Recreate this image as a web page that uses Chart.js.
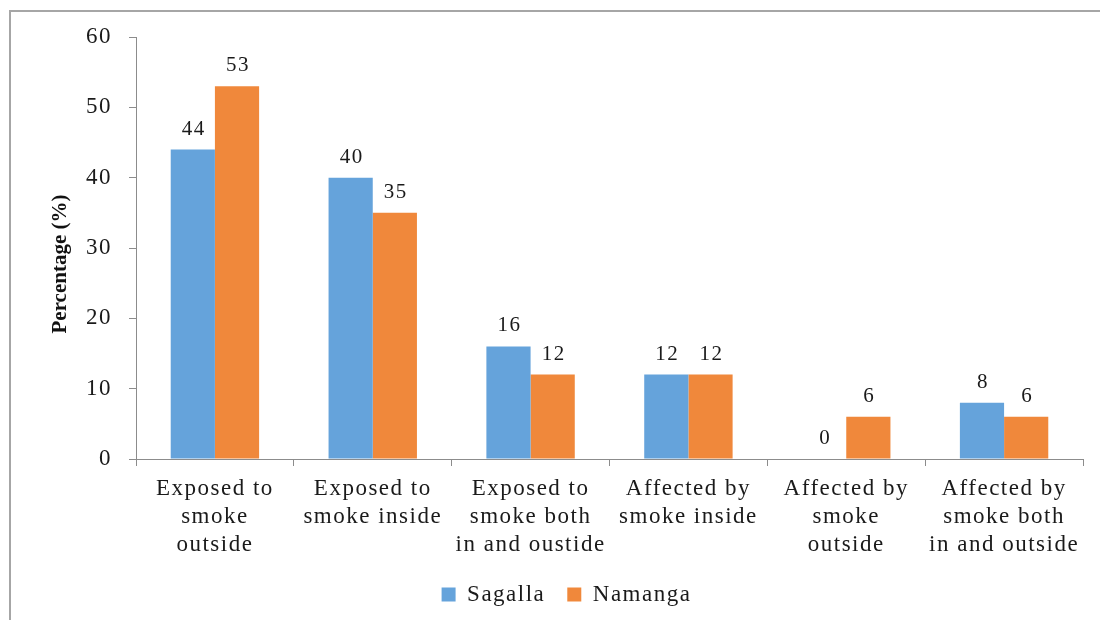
<!DOCTYPE html>
<html>
<head>
<meta charset="utf-8">
<script src="https://cdn.jsdelivr.net/npm/chart.js@4.4.1/dist/chart.umd.min.js"></script>
<style>
  html, body { margin: 0; padding: 0; background: #fff; }
  #wrap { position: relative; width: 1100px; height: 620px; overflow: hidden; }
  #frame {
    position: absolute; left: 9px; top: 10px; width: 1100px; height: 620px;
    border-top: 2px solid #a6a6a6; border-left: 2px solid #a6a6a6;
  }
  #chart { position: absolute; left: 0; top: 0; }
</style>
</head>
<body>
<div id="wrap">
  <div id="frame"></div>
  <canvas id="chart" width="1100" height="620"></canvas>
</div>
<script>
const categories = [
  ['Exposed to', 'smoke', 'outside'],
  ['Exposed to', 'smoke inside'],
  ['Exposed to', 'smoke both', 'in and oustide'],
  ['Affected by', 'smoke inside'],
  ['Affected by', 'smoke', 'outside'],
  ['Affected by', 'smoke both', 'in and outside']
];
const sagalla = [44, 40, 16, 12, 0, 8];
const namanga = [53, 35, 12, 12, 6, 6];
const yTicks = [0, 10, 20, 30, 40, 50, 60];
const yTitle = 'Percentage (%)';

const serif = '"Liberation Serif", "Times New Roman", serif';
const spacing = '1.5px';

// slightly wide letter spacing for chart text (reset whenever the canvas is resized)
const wideText = {
  id: 'wideText',
  beforeLayout(chart) { chart.ctx.letterSpacing = spacing; },
  beforeDraw(chart) { chart.ctx.letterSpacing = spacing; },
  afterLayout(chart) {
    // nudge the legend a bit to the right of the canvas centre
    chart.legend.left += 25;
    chart.legend.right += 25;
  }
};

// value printed above each bar, plus the rotated y axis title
const valueLabels = {
  id: 'valueLabels',
  afterDatasetsDraw(chart) {
    const ctx = chart.ctx;
    ctx.save();
    ctx.font = '21px ' + serif;
    ctx.fillStyle = '#1a1a1a';
    ctx.textAlign = 'center';
    ctx.textBaseline = 'alphabetic';
    chart.data.datasets.forEach((ds, i) => {
      chart.getDatasetMeta(i).data.forEach((bar, j) => {
        ctx.fillText(ds.data[j], bar.x + 1, bar.y - 15);
      });
    });
    ctx.restore();

    ctx.save();
    ctx.letterSpacing = '0px';
    ctx.font = 'bold 21px ' + serif;
    ctx.fillStyle = '#111';
    ctx.textAlign = 'center';
    ctx.textBaseline = 'middle';
    ctx.translate(61, 264);
    ctx.rotate(-Math.PI / 2);
    ctx.fillText(yTitle, 0, 0);
    ctx.restore();
  }
};

new Chart(document.getElementById('chart'), {
  type: 'bar',
  data: {
    labels: categories,
    datasets: [
      {
        label: 'Sagalla',
        data: sagalla,
        backgroundColor: '#65a3db',
        categoryPercentage: 0.56,
        barPercentage: 1.0
      },
      {
        label: 'Namanga',
        data: namanga,
        backgroundColor: '#f0883b',
        categoryPercentage: 0.56,
        barPercentage: 1.0
      }
    ]
  },
  options: {
    responsive: false,
    animation: false,
    layout: { padding: { left: 0, top: 37, right: 17, bottom: 4 } },
    plugins: {
      tooltip: { enabled: false },
      legend: {
        position: 'bottom',
        labels: {
          boxWidth: 14,
          boxHeight: 14,
          padding: 22,
          color: '#1a1a1a',
          font: { family: serif, size: 23 }
        }
      }
    },
    scales: {
      x: {
        afterFit: (scale) => { scale.height = 102; },
        border: { color: '#8c8c8c', width: 1 },
        grid: { drawOnChartArea: false, drawTicks: true, tickLength: 7, offset: true, color: '#8c8c8c' },
        ticks: {
          color: '#1a1a1a',
          padding: 9,
          autoSkip: false,
          maxRotation: 0,
          font: { family: serif, size: 23, lineHeight: 1.22 }
        }
      },
      y: {
        min: 0,
        max: 60,
        afterFit: (scale) => { scale.width = 136; },
        afterBuildTicks: (scale) => { scale.ticks = yTicks.map(v => ({ value: v })); },
        border: { color: '#8c8c8c', width: 1 },
        grid: { drawOnChartArea: false, drawTicks: true, tickLength: 7, color: '#8c8c8c' },
        ticks: {
          color: '#1a1a1a',
          padding: 17,
          font: { family: serif, size: 23 }
        }
      }
    }
  },
  plugins: [wideText, valueLabels]
});
</script>
</body>
</html>
